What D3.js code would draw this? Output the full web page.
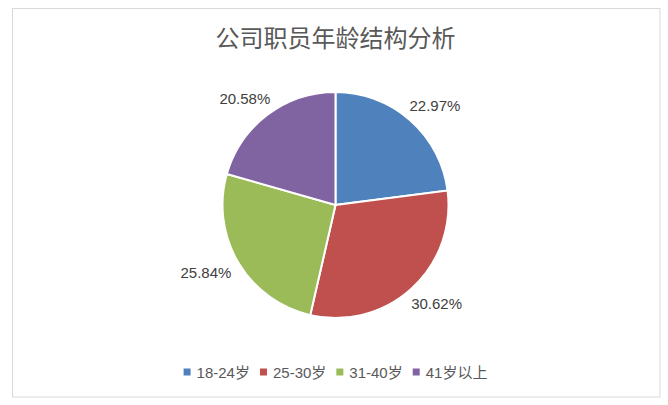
<!DOCTYPE html>
<head>
  <meta charset="utf-8">
  <title>公司职员年龄结构分析</title>
  <script src="https://cdn.jsdelivr.net/npm/d3@7/dist/d3.min.js"></script>
  <style>
    html, body { margin: 0; padding: 0; background: #fff; }
    svg text { font-family: "Liberation Sans", "Noto Sans CJK SC", sans-serif; }
  </style>
</head>
<body>
<div id="chart"></div>
<script>
const title = '公司职员年龄结构分析';
const categories = ['18-24岁', '25-30岁', '31-40岁', '41岁以上'];
const values = [22.97, 30.62, 25.84, 20.58];
const colors = ['#4F81BD', '#C0504D', '#9BBB59', '#8064A2'];

const width = 668;
const height = 405;
const centre = { x: 335.5, y: 205 };
const radius = 113;

const svg = d3.select('#chart')
  .append('svg')
  .attr('width', width)
  .attr('height', height);

// chart frame
svg.append('rect')
  .attr('x', 12.5)
  .attr('y', 8.5)
  .attr('width', 647.5)
  .attr('height', 388.5)
  .attr('fill', '#fff')
  .attr('stroke', '#d9d9d9');

svg.append('text')
  .attr('x', centre.x)
  .attr('y', 36)
  .attr('text-anchor', 'middle')
  .attr('dominant-baseline', 'central')
  .style('font-family', '"Noto Sans CJK SC", sans-serif')
  .style('font-size', '24px')
  .style('fill', '#595959')
  .text(title);

const data = categories.map((c, i) => ({ name: c, value: values[i], color: colors[i] }));

const pie = d3.pie()
  .sort(null)
  .value(d => d.value);
const arcs = pie(data);

const arc = d3.arc()
  .innerRadius(0)
  .outerRadius(radius);

const g = svg.append('g')
  .attr('transform', `translate(${centre.x},${centre.y})`);

g.selectAll('path')
  .data(arcs)
  .enter()
  .append('path')
  .attr('d', arc)
  .attr('fill', d => d.data.color)
  .attr('stroke', '#fff')
  .attr('stroke-width', 2);

// labels sit just outside the slice, nudged away from the pie like excel's "outside end"
const labelR = radius + 14;
g.selectAll('.label')
  .data(arcs)
  .enter()
  .append('text')
  .attr('class', 'label')
  .attr('x', d => {
    const a = (d.startAngle + d.endAngle) / 2;
    return Math.sin(a) * labelR + Math.sin(a) * 23.5;
  })
  .attr('y', d => {
    const a = (d.startAngle + d.endAngle) / 2;
    return -Math.cos(a) * labelR - Math.cos(a) * 6;
  })
  .attr('text-anchor', 'middle')
  .attr('dominant-baseline', 'central')
  .style('font-size', '15px')
  .style('fill', '#404040')
  .text(d => d.data.value.toFixed(2) + '%');

// legend
const legend = svg.append('g');
const items = legend.selectAll('g')
  .data(data)
  .enter()
  .append('g');
items.append('rect')
  .attr('x', 0)
  .attr('y', -3.5)
  .attr('width', 7)
  .attr('height', 7)
  .attr('fill', d => d.color);
items.append('text')
  .attr('x', 13)
  .attr('y', 0)
  .attr('dominant-baseline', 'central')
  .style('font-size', '15px')
  .style('fill', '#595959')
  .text(d => d.name);

let xoff = 0;
items.each(function() {
  const w = d3.select(this).select('text').node().getComputedTextLength();
  d3.select(this).attr('transform', `translate(${xoff},0)`);
  xoff += 13 + w + 10;
});
const total = xoff - 10;
legend.attr('transform', `translate(${centre.x - total / 2},372)`);
</script>
</body>
